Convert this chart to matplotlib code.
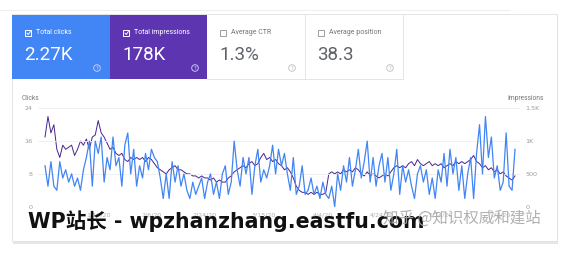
import numpy as np
import matplotlib
matplotlib.use('Agg')
import matplotlib.pyplot as plt
from matplotlib.patches import Rectangle, Circle

# summary tiles
tile_labels = ['Total clicks', 'Total impressions', 'Average CTR', 'Average position']
tile_values = ['2.27K', '178K', '1.3%', '38.3']
tile_checked = [True, True, False, False]

# daily clicks (left axis)
clicks = [10, 5, 11, 5, 4, 11, 7, 9, 6, 8, 5, 7, 4, 9, 12, 16, 5, 16, 13, 17, 6, 12, 9, 17, 10, 12, 5, 15,
          18, 8, 14, 5, 10, 7, 13, 9, 14, 12, 11, 7, 2, 8, 2, 11, 6, 10, 5, 8, 4, 2, 6, 3,
          5, 7, 2, 6, 8, 3, 6, 2, 8, 10, 3, 6, 16, 9, 5, 12, 8, 12, 3, 10, 14, 6, 9, 7, 10, 15,
          8, 14, 10, 13, 8, 4, 12, 3, 5, 10, 3, 4, 7, 3, 5, 2, 6, 3, 2, 5, 0, 8, 4, 10, 6, 12, 5, 9, 14,
          7, 11, 16, 6, 12, 5, 10, 13, 6, 12, 4, 8, 14, 3, 10, 6, 9, 5, 2, 8, 10, 6, 9, 3, 7, 2, 9,
          6, 13, 5, 14, 8, 12, 4, 10, 2, 8, 12, 2, 13, 20, 8, 22, 12, 17, 7, 10, 4, 6, 18, 5, 4, 14]

# daily impressions (right axis)
impressions = [1062, 1375, 1125, 1250, 875, 750, 938, 875, 906, 938,
               781, 875, 1000, 938, 1031, 875, 1062, 1094, 1313, 1125,
               1062, 969, 875, 906, 813, 781, 813, 719, 688, 750,
               719, 750, 719, 750, 688, 750, 719, 656, 594, 563,
               531, 500, 563, 594, 625, 563, 563, 531, 500, 500,
               469, 469, 438, 469, 438, 438, 406, 438, 375, 406,
               375, 375, 438, 469, 531, 563, 594, 625, 594, 656,
               688, 625, 656, 750, 813, 719, 750, 688, 719, 656,
               625, 563, 594, 531, 438, 313, 250, 219, 219, 188,
               219, 188, 219, 188, 188, 219, 500, 531, 500, 531,
               500, 563, 531, 563, 531, 594, 563, 500, 469, 531,
               469, 500, 469, 438, 469, 500, 469, 531, 594, 625,
               594, 625, 594, 656, 688, 625, 719, 656, 625, 656,
               688, 625, 656, 625, 656, 594, 625, 656, 625, 688,
               656, 688, 656, 688, 719, 781, 688, 656, 594, 625,
               563, 594, 531, 563, 500, 531, 469, 438, 406, 469]

xtick_pos = [18, 36, 54, 74, 94, 114, 134, 154]
xtick_labels = ['1/19/20', '2/6/20', '2/24/20', '3/15/20', '4/4/20', '4/24/20', '5/14/20', '6/3/20']

W, H = 569, 259
fig = plt.figure(figsize=(W / 100, H / 100), dpi=100)
fig.patch.set_facecolor('white')

# background layer in pixel coords
bg = fig.add_axes([0, 0, 1, 1])
bg.set_xlim(0, W)
bg.set_ylim(H, 0)
bg.axis('off')

bg.plot([0, 510], [10, 10], color='#ececec', lw=0.6)
bg.add_patch(Rectangle((13, 16), 545, 228, facecolor='#e6e6e6', edgecolor='none'))
bg.add_patch(Rectangle((12, 14), 545, 227, facecolor='white', edgecolor='#e0e0e0', lw=0.6))

tile_x = [12, 110, 207, 305]
tile_w = [98, 97, 98, 98]
fills = ['#4285f4', '#5e35b1', 'white', 'white']
for i in range(4):
    x0 = tile_x[i]
    bg.add_patch(Rectangle((x0, 15), tile_w[i], 64, facecolor=fills[i], edgecolor='none'))
    dark = tile_checked[i]
    fg = 'white' if dark else '#757575'
    big = 'white' if dark else '#5f6368'
    # checkbox
    bg.add_patch(Rectangle((x0 + 13.5, 30), 6, 6, facecolor='none',
                           edgecolor='white' if dark else '#9e9e9e', lw=0.7))
    if dark:
        bg.plot([x0 + 15, x0 + 16.3, x0 + 18.3], [33.2, 34.5, 31.6], color='white', lw=0.7)
    bg.text(x0 + 24, 33, tile_labels[i], fontsize=5, color=fg, va='center', family='Roboto')
    bg.text(x0 + 12.5, 55, tile_values[i], fontsize=13.5, color=big, va='center', family='Roboto')
    bg.add_patch(Circle((x0 + 85, 68), 3.3, facecolor='none',
                        edgecolor='#cfd8fb' if dark else '#bdbdbd', lw=0.6))
    bg.text(x0 + 85, 68.3, '?', fontsize=3.8, color='#cfd8fb' if dark else '#bdbdbd',
            ha='center', va='center')

bg.plot([305, 305], [15, 79], color='#e0e0e0', lw=0.6)
bg.plot([403, 403], [15, 79], color='#e0e0e0', lw=0.6)
bg.plot([207, 403], [79, 79], color='#e0e0e0', lw=0.6)

bg.text(22, 98, 'Clicks', fontsize=4.8, color='#757575', va='center', family='Roboto')
bg.text(544, 98, 'Impressions', fontsize=4.8, color='#757575', va='center', ha='right', family='Roboto')

# chart
ax = fig.add_axes([38 / W, (H - 206.7) / H, 482 / W, 98.4 / H])
ax.patch.set_alpha(0)
x = np.arange(len(clicks))
ax.set_xlim(-2.37, 160.69)
ax.set_ylim(0, 24)
ax.set_yticks([0, 8, 16, 24])
ax.yaxis.grid(True, color='#eeeeee', lw=0.6)
ax.axhline(0, color='#cccccc', lw=0.7)
ax.set_xticks(xtick_pos)
ax.set_xticklabels(xtick_labels)
ax.tick_params(length=0, labelsize=4.6, labelcolor='#b0b0b0', pad=4)
for s in ax.spines.values():
    s.set_visible(False)

ax2 = ax.twinx()
ax2.set_ylim(0, 1500)
ax2.set_yticks([0, 500, 1000, 1500])
ax2.set_yticklabels(['0', '500', '1K', '1.5K'])
ax2.tick_params(length=0, labelsize=4.6, labelcolor='#9e9e9e', pad=4)
for s in ax2.spines.values():
    s.set_visible(False)
ax.tick_params(axis='y', labelcolor='#9e9e9e')

ax.plot(x, clicks, color='#4285f4', lw=0.9, zorder=3)
ax2.plot(x, impressions, color='#4a2390', lw=0.7, zorder=2)
ax.set_zorder(ax2.get_zorder() + 1)

# watermarks
fig.text(28 / W, 1 - 221 / H, 'WP站长 - wpzhanzhang.eastfu.com', fontsize=14.8, fontweight='bold',
         color='#111111', va='center', family=['DejaVu Sans', 'Noto Sans CJK SC'])
fig.text(383 / W, 1 - 218 / H, '知乎 @知识权威和建站', fontsize=11.2, color='#a8a8a8',
         va='center', family=['Noto Sans CJK SC', 'DejaVu Sans'], alpha=0.9)

fig.savefig('out.png', dpi=100, facecolor='white')
